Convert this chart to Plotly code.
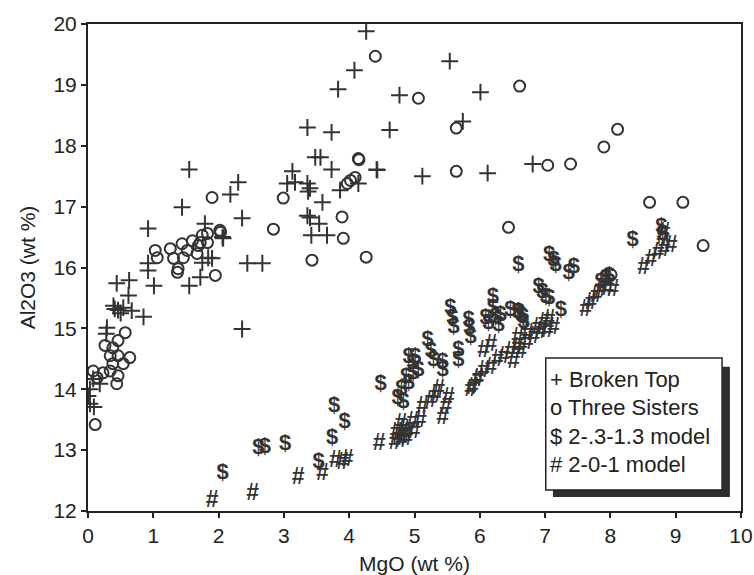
import plotly.graph_objects as go

# Broken Top (+) analyses: MgO, Al2O3 (wt %)
bt_mgo = [4.26, 4.08, 3.83, 3.36, 3.73, 3.48, 3.56, 3.73, 4.42, 3.13, 3.05, 3.17, 3.36, 3.37,
          3.40, 3.59, 3.86, 4.14, 3.36, 3.40, 3.54, 3.42, 3.66, 2.44, 2.67, 2.36, 2.30, 2.18,
          1.55, 1.44, 0.92, 1.79, 2.06, 1.90, 1.72, 1.55, 1.01, 0.92, 0.92, 0.63, 0.44, 0.62,
          0.39, 0.54, 0.67, 0.85, 0.29, 0.28, 2.36, 0.03, 0.00, 0.03, 0.09, 0.18, 0.08, 1.75,
          1.84, 2.07, 0.46, 0.41, 0.50,
          5.54, 4.77, 6.01, 4.62, 5.74, 4.43, 5.12, 6.12, 6.81]
bt_al2o3 = [19.88, 19.24, 18.93, 18.30, 18.22, 17.81, 17.81, 17.61, 17.61, 17.58, 17.38, 17.40, 17.38, 17.25,
            17.30, 17.07, 17.27, 17.38, 16.85, 16.82, 16.72, 16.53, 16.53, 16.07, 16.07, 16.81, 17.40, 17.20,
            17.61, 16.99, 16.64, 16.72, 16.50, 16.15, 15.84, 15.70, 15.70, 16.07, 15.95, 15.79, 15.74, 15.54,
            15.37, 15.34, 15.29, 15.19, 15.01, 14.91, 14.99, 14.00, 13.89, 13.76, 13.71, 14.09, 14.17, 16.08,
            16.16, 16.48, 15.30, 15.32, 15.25,
            19.39, 18.83, 18.88, 18.26, 18.40, 17.60, 17.50, 17.55, 17.70]

# Three Sisters (o) analyses
ts_mgo = [0.11, 0.57, 0.46, 0.26, 0.38, 0.34, 0.46, 0.64, 0.38, 0.54, 0.34, 0.46, 0.44, 0.14,
          0.08, 0.23,
          4.40, 1.90, 2.99, 2.84, 4.14, 4.15, 4.09, 3.97, 4.02, 3.89, 3.91, 3.43, 4.26, 1.95,
          2.02, 2.03, 1.83, 1.72, 1.03, 1.06, 1.26, 1.31, 1.38, 1.37, 1.46, 1.44, 1.60, 1.52,
          1.69, 1.75, 1.83, 1.67,
          5.06, 6.61, 5.64, 8.11, 7.90, 5.64, 7.04, 7.39, 8.60, 9.11, 9.42, 6.44, 8.01]
ts_al2o3 = [13.42, 14.93, 14.80, 14.72, 14.68, 14.55, 14.55, 14.52, 14.42, 14.42, 14.30, 14.22, 14.09, 14.19,
            14.30, 14.27,
            19.47, 17.15, 17.14, 16.63, 17.79, 17.77, 17.48, 17.38, 17.43, 16.83, 16.48, 16.12, 16.17, 15.87,
            16.61, 16.58, 16.56, 16.41, 16.28, 16.16, 16.31, 16.15, 15.98, 15.92, 16.16, 16.39, 16.44, 16.28,
            16.36, 16.53, 16.41, 16.23,
            18.78, 18.98, 18.29, 18.27, 17.98, 17.58, 17.68, 17.70, 17.07, 17.07, 16.36, 16.66, 15.88]

# 2-.3-1.3 model ($)
m1_mgo = [2.06, 2.61, 2.71, 3.02, 3.53, 3.74, 3.77, 3.93, 4.48, 4.74, 4.83, 4.91, 4.98, 5.06,
          4.91, 5.01, 4.97, 5.20, 5.29, 5.43, 5.43, 5.55, 5.58, 5.60, 5.67, 5.67, 5.83, 5.84,
          5.86, 6.09, 6.13, 6.20, 6.20, 6.24, 6.29, 6.58, 6.63, 6.67, 6.59, 6.90, 6.96, 7.01,
          7.06, 7.13, 7.16, 7.36, 7.44, 7.06, 7.24, 8.34, 6.47, 6.60, 6.66, 6.32, 8.78, 8.80,
          7.93, 7.85, 7.98, 4.87, 4.80, 5.25]
m1_al2o3 = [12.61, 13.02, 13.05, 13.10, 12.79, 13.19, 13.71, 13.45, 14.08, 13.84, 13.78, 14.09, 14.26, 14.30,
            14.52, 14.52, 14.42, 14.80, 14.47, 14.44, 14.30, 15.33, 15.16, 15.01, 14.63, 14.47, 15.13, 14.99,
            14.85, 15.16, 15.08, 15.51, 15.33, 15.18, 15.05, 15.26, 15.21, 15.09, 16.03, 15.67, 15.59, 15.51,
            16.20, 16.12, 16.03, 15.90, 16.00, 15.49, 15.29, 16.44, 15.29, 15.26, 15.18, 15.21, 16.65, 16.55,
            15.82, 15.75, 15.86, 14.20, 14.00, 14.62]

# 2-0-1 model (#)
m2_mgo = [1.90, 2.52, 3.22, 3.59, 3.79, 3.90, 3.97, 4.46,
          4.79, 4.83, 4.89, 4.97, 5.09, 5.12, 5.25, 5.32, 5.43, 5.48, 5.52, 4.75, 4.80, 4.85,
          4.70, 4.72, 4.88, 5.00, 5.37,
          5.89, 5.97, 6.06, 6.17, 6.27, 6.37, 6.47, 6.58, 6.06, 6.17, 6.58, 6.73, 6.89, 6.98,
          7.06, 6.52, 6.63, 6.73, 6.83, 6.93, 7.04, 7.13, 5.86, 5.97,
          7.62, 7.70, 7.78, 7.85, 7.96, 8.04, 7.90,
          8.51, 8.62, 8.73, 8.82, 8.93, 8.80, 8.82]
m2_al2o3 = [12.16, 12.28, 12.54, 12.61, 12.82, 12.79, 12.84, 13.10,
            13.43, 13.32, 13.27, 13.45, 13.48, 13.70, 13.81, 13.89, 13.53, 13.70, 13.86, 13.20, 13.15, 13.25,
            13.12, 13.28, 13.18, 13.30, 13.98,
            14.02, 14.17, 14.30, 14.35, 14.47, 14.52, 14.60, 14.68, 14.63, 14.72, 14.83, 14.91, 15.01, 15.08,
            15.13, 14.44, 14.60, 14.76, 14.85, 14.93, 14.96, 15.00, 13.98, 14.14,
            15.29, 15.41, 15.52, 15.62, 15.65, 15.62, 15.72,
            15.98, 16.12, 16.23, 16.28, 16.35, 16.48, 16.57]

legend_lines = ["+ Broken Top", "o Three Sisters", "$ 2-.3-1.3 model", "# 2-0-1 model"]

INK = "#333333"
FONT = "Liberation Sans, Arial, Helvetica, sans-serif"

fig = go.Figure()
fig.add_trace(go.Scatter(x=bt_mgo, y=bt_al2o3, mode="markers", name="Broken Top",
                         marker=dict(symbol="cross-thin", size=12, line=dict(width=2, color=INK))))
fig.add_trace(go.Scatter(x=ts_mgo, y=ts_al2o3, mode="markers", name="Three Sisters",
                         marker=dict(symbol="circle-open", size=11, color=INK, line=dict(width=2, color=INK))))
fig.add_trace(go.Scatter(x=m1_mgo, y=m1_al2o3, mode="text", name="2-.3-1.3 model",
                         text=["$"] * len(m1_mgo), textposition="middle center",
                         textfont=dict(family=FONT, size=22, color=INK, weight="bold")))
fig.add_trace(go.Scatter(x=m2_mgo, y=m2_al2o3, mode="text", name="2-0-1 model",
                         text=["#"] * len(m2_mgo), textposition="middle center",
                         textfont=dict(family=FONT, size=23, color=INK, weight="bold")))

# legend box with drop shadow (paper coordinates)
fig.add_shape(type="rect", xref="paper", yref="paper", x0=0.712, x1=0.983, y0=0.029, y1=0.296,
              fillcolor="#2e2e2e", line=dict(width=0))
fig.add_shape(type="rect", xref="paper", yref="paper", x0=0.701, x1=0.971, y0=0.043, y1=0.314,
              fillcolor="white", line=dict(width=1.5, color="#222222"))
for i, line in enumerate(legend_lines):
    fig.add_annotation(xref="paper", yref="paper", x=0.704, y=0.269 - i * 0.0575,
                       text=line, showarrow=False, xanchor="left", yanchor="middle",
                       font=dict(family=FONT, size=22, color="#222222"))

axis_common = dict(showline=True, linewidth=2, linecolor="#222222", mirror=True,
                   ticks="outside", ticklen=5, tickwidth=1.5, tickcolor="#222222",
                   showgrid=False, zeroline=False, automargin=False,
                   tickfont=dict(family=FONT, size=21, color="#222222"))

fig.update_xaxes(range=[0, 10], dtick=1, tick0=0,
                 title=dict(text="MgO (wt %)", font=dict(family=FONT, size=21, color="#222222"), standoff=10),
                 **axis_common)
fig.update_yaxes(range=[12, 20], dtick=1, tick0=12,
                 title=dict(text="Al2O3 (wt %)", font=dict(family=FONT, size=21, color="#222222"), standoff=12),
                 **axis_common)

fig.update_layout(width=754, height=575, showlegend=False,
                  margin=dict(l=88, r=13, t=24, b=64),
                  plot_bgcolor="white", paper_bgcolor="white")

fig.write_html("out.html")
